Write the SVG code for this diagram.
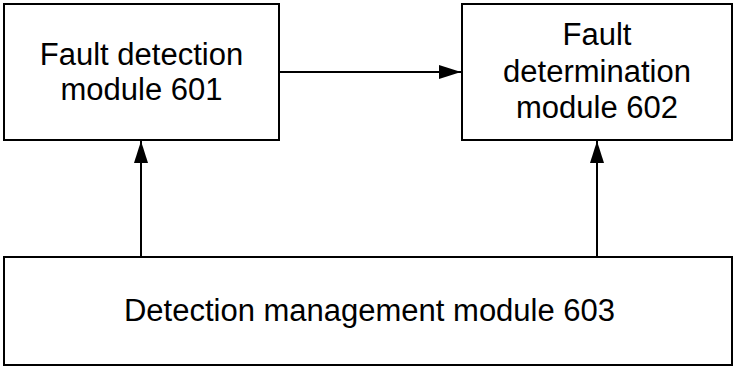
<svg xmlns="http://www.w3.org/2000/svg" width="734" height="367" viewBox="0 0 734 367">
<defs>
<style>
.box{fill:#fff;stroke:#000;stroke-width:2}
.lbl{font-family:"Liberation Sans",Arial,sans-serif;font-size:31px;fill:#000;text-anchor:middle}
.conn{stroke:#000;stroke-width:2;fill:none}
</style>
<marker id="ah" markerWidth="22" markerHeight="14" refX="22" refY="7" orient="auto" markerUnits="userSpaceOnUse">
<path d="M0,0 L22,7 L0,14 Z" fill="#000"/>
</marker>
</defs>
<rect width="734" height="367" fill="#fff"/>
<g id="connectors">
<line class="conn" x1="279" y1="72" x2="461" y2="72" marker-end="url(#ah)"/>
<line class="conn" x1="141" y1="257" x2="141" y2="141" marker-end="url(#ah)"/>
<line class="conn" x1="597" y1="257" x2="597" y2="141" marker-end="url(#ah)"/>
</g>
<g id="n601">
<rect class="box" x="4" y="4" width="275" height="136"/>
<text class="lbl" x="141.5" y="65">Fault detection</text>
<text class="lbl" x="141.5" y="100">module 601</text>
</g>
<g id="n602">
<rect class="box" x="462" y="4" width="270" height="136"/>
<text class="lbl" x="597" y="45">Fault</text>
<text class="lbl" x="597" y="82">determination</text>
<text class="lbl" x="597" y="118">module 602</text>
</g>
<g id="n603">
<rect class="box" x="4" y="257" width="728" height="108"/>
<text class="lbl" x="369.5" y="321">Detection management module 603</text>
</g>
</svg>
